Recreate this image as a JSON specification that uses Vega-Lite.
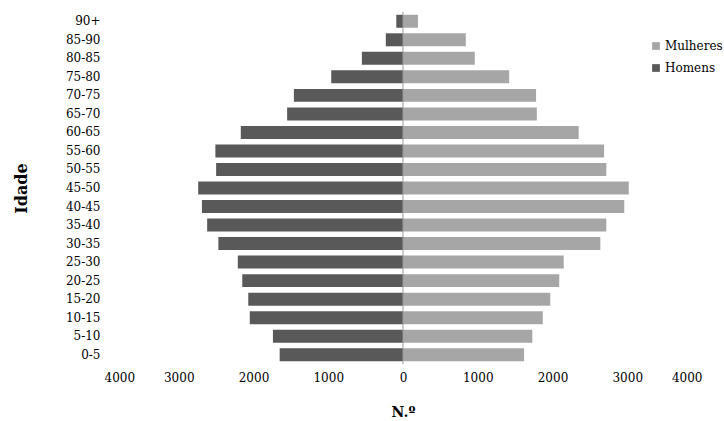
{
"$schema":"https://vega.github.io/schema/vega-lite/v6.json",
"width":598,"height":352,
"autosize":{"type":"none"},
"padding":{"left":104,"top":12,"right":22,"bottom":57},
"config":{"font":"DejaVu Serif","view":{"stroke":null}},
"data":{"values":[
{"idade":"90+","sexo":"Mulheres","v":200},{"idade":"90+","sexo":"Homens","v":-90},
{"idade":"85-90","sexo":"Mulheres","v":840},{"idade":"85-90","sexo":"Homens","v":-230},
{"idade":"80-85","sexo":"Mulheres","v":960},{"idade":"80-85","sexo":"Homens","v":-550},
{"idade":"75-80","sexo":"Mulheres","v":1420},{"idade":"75-80","sexo":"Homens","v":-960},
{"idade":"70-75","sexo":"Mulheres","v":1780},{"idade":"70-75","sexo":"Homens","v":-1460},
{"idade":"65-70","sexo":"Mulheres","v":1790},{"idade":"65-70","sexo":"Homens","v":-1550},
{"idade":"60-65","sexo":"Mulheres","v":2350},{"idade":"60-65","sexo":"Homens","v":-2170},
{"idade":"55-60","sexo":"Mulheres","v":2690},{"idade":"55-60","sexo":"Homens","v":-2510},
{"idade":"50-55","sexo":"Mulheres","v":2720},{"idade":"50-55","sexo":"Homens","v":-2500},
{"idade":"45-50","sexo":"Mulheres","v":3020},{"idade":"45-50","sexo":"Homens","v":-2740},
{"idade":"40-45","sexo":"Mulheres","v":2960},{"idade":"40-45","sexo":"Homens","v":-2690},
{"idade":"35-40","sexo":"Mulheres","v":2720},{"idade":"35-40","sexo":"Homens","v":-2620},
{"idade":"30-35","sexo":"Mulheres","v":2640},{"idade":"30-35","sexo":"Homens","v":-2470},
{"idade":"25-30","sexo":"Mulheres","v":2150},{"idade":"25-30","sexo":"Homens","v":-2210},
{"idade":"20-25","sexo":"Mulheres","v":2090},{"idade":"20-25","sexo":"Homens","v":-2150},
{"idade":"15-20","sexo":"Mulheres","v":1970},{"idade":"15-20","sexo":"Homens","v":-2070},
{"idade":"10-15","sexo":"Mulheres","v":1870},{"idade":"10-15","sexo":"Homens","v":-2050},
{"idade":"5-10","sexo":"Mulheres","v":1730},{"idade":"5-10","sexo":"Homens","v":-1740},
{"idade":"0-5","sexo":"Mulheres","v":1620},{"idade":"0-5","sexo":"Homens","v":-1650}
]},
"layer":[
{"mark":{"type":"bar"},
"encoding":{
"y":{"field":"idade","type":"nominal","sort":null,"scale":{"paddingInner":0.3,"paddingOuter":0.15},
 "axis":{"title":"Idade","titleFontSize":16,"titleFontWeight":"bold","titleColor":"#000","labelFontSize":12,"labelColor":"#000","ticks":false,"domain":false,"labelPadding":4,"titlePadding":36}},
"x":{"field":"v","type":"quantitative","scale":{"domain":[-4000,4000]},
 "axis":{"values":[-4000,-3000,-2000,-1000,0,1000,2000,3000,4000],"labelExpr":"format(abs(datum.value),'d')","grid":false,"domain":false,"ticks":false,"labelPadding":8,"title":"N.º","titleFontSize":14,"titleFontWeight":"bold","titleColor":"#000","labelFontSize":12,"labelColor":"#000","titlePadding":22}},
"color":{"field":"sexo","type":"nominal","scale":{"domain":["Mulheres","Homens"],"range":["#a6a6a6","#595959"]},
 "legend":{"title":null,"orient":"none","legendX":546,"legendY":28,"labelFontSize":12,"labelColor":"#000","symbolType":"square","symbolSize":60,"rowPadding":10,"labelOffset":3}}
}},
{"data":{"values":[{"x":0}]},"mark":{"type":"rule","color":"#999"},"encoding":{"x":{"field":"x","type":"quantitative"}}}
]
}
